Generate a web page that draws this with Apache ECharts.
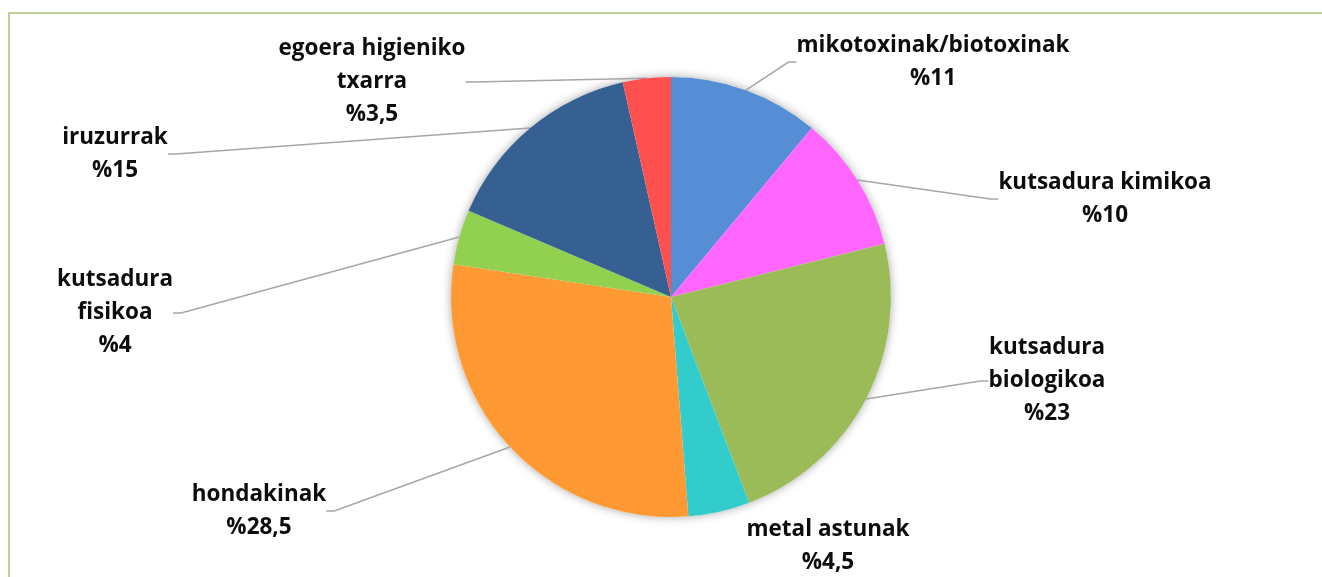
<!DOCTYPE html>
<html>
<head>
<meta charset="utf-8">
<script src="https://cdn.jsdelivr.net/npm/echarts@6/dist/echarts.min.js"></script>
<style>
  html, body { margin: 0; padding: 0; background: #fff; }
  #main { width: 1322px; height: 577px; }
</style>
</head>
<body>
<div id="main"></div>
<script>
// slices, clockwise from 12 o'clock
var names = ['mikotoxinak/biotoxinak', 'kutsadura kimikoa', 'kutsadura\nbiologikoa', 'metal astunak',
             'hondakinak', 'kutsadura\nfisikoa', 'iruzurrak', 'egoera higieniko\ntxarra'];
var values = [11, 10, 23, 4.5, 28.5, 4, 15, 3.5];
var colors = ['#558ed5', '#ff66ff', '#9bbb59', '#33cccc', '#ff9933', '#92d050', '#376092', '#ff5050'];
// where each label sits (centre of text block)
var labelPos = [[933, 62], [1105, 199], [1047, 381], [828, 546], [259, 511], [115, 313], [115, 154], [372, 82]];

var myChart = echarts.init(document.getElementById('main'));

var pieData = names.map(function (n, i) {
    return {
        name: n,
        value: values[i],
        itemStyle: { color: colors[i] },
        labelLine: { show: i !== 3 }
    };
});
var total = values.reduce(function (a, b) { return a + b; }, 0);

myChart.setOption({
    backgroundColor: '#fff',
    animation: false,
    graphic: [{
        type: 'rect',
        shape: { x: 9, y: 13, width: 1340, height: 600 },
        style: { fill: 'none', stroke: '#a9c27a', lineWidth: 1.5 },
        silent: true
    }],
    series: [{
        // soft shadow behind the pie
        type: 'pie',
        center: [671, 297],
        radius: 220,
        silent: true,
        z: 1,
        label: { show: false },
        labelLine: { show: false },
        itemStyle: { color: '#fff', shadowBlur: 10, shadowColor: 'rgba(0,0,0,0.35)' },
        data: [total]
    }, {
        name: 'arriskuak',
        type: 'pie',
        center: [671, 297],
        radius: 220,
        startAngle: 90,
        clockwise: true,
        z: 2,
        itemStyle: { borderWidth: 0 },
        label: {
            show: true,
            position: 'outside',
            formatter: function (p) {
                return p.name + '\n%' + String(p.value).replace('.', ',');
            },
            fontFamily: 'Open Sans',
            fontWeight: 'bold',
            fontSize: 22.5,
            lineHeight: 33,
            color: '#0d0d0d',
            align: 'center'
        },
        labelLine: {
            length: 20,
            length2: 8,
            lineStyle: { color: '#a6a6a6', width: 1.5 }
        },
        labelLayout: function (params) {
            var p = labelPos[params.dataIndex];
            return { x: p[0], y: p[1], align: 'center', verticalAlign: 'middle' };
        },
        data: pieData
    }]
});
</script>
</body>
</html>
